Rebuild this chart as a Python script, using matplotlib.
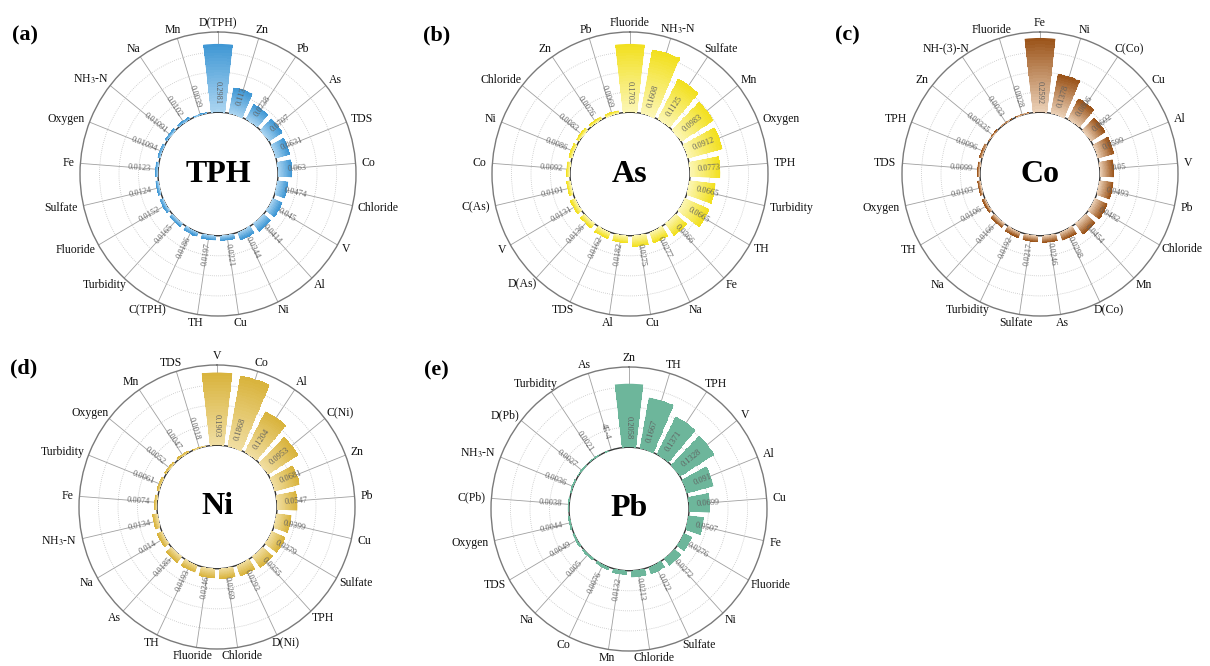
import numpy as np
import matplotlib.pyplot as plt
from matplotlib.colors import LinearSegmentedColormap

plt.rcParams['font.family'] = 'Liberation Serif'
plt.rcParams['mathtext.fontset'] = 'stix'

NH3 = r'NH$_3$-N'

# (a) TPH
tph_names = ['D(TPH)', 'Zn', 'Pb', 'As', 'TDS', 'Co', 'Chloride', 'V', 'Al', 'Ni', 'Cu',
             'TH', 'C(TPH)', 'Turbidity', 'Fluoride', 'Sulfate', 'Fe', 'Oxygen', NH3, 'Na', 'Mn']
tph_vals = [0.2981, 0.113, 0.0738, 0.0707, 0.0631, 0.063, 0.0474, 0.045, 0.0414, 0.0344, 0.0221,
            0.0197, 0.0186, 0.0165, 0.0152, 0.0124, 0.0123, 0.01094, 0.01091, 0.0102, 0.0039]

# (b) As
as_names = ['Fluoride', NH3, 'Sulfate', 'Mn', 'Oxygen', 'TPH', 'Turbidity', 'TH', 'Fe', 'Na', 'Cu',
            'Al', 'TDS', 'D(As)', 'V', 'C(As)', 'Co', 'Ni', 'Chloride', 'Zn', 'Pb']
as_vals = [0.1703, 0.1608, 0.1125, 0.0983, 0.0912, 0.0773, 0.0665, 0.0665, 0.0366, 0.0277, 0.0275,
           0.0182, 0.0162, 0.0136, 0.0131, 0.0101, 0.0092, 0.0086, 0.0083, 0.0076, 0.0069]

# (c) Co
co_names = ['Fe', 'Ni', 'C(Co)', 'Cu', 'Al', 'V', 'Pb', 'Chloride', 'Mn', 'D(Co)', 'As',
            'Sulfate', 'Turbidity', 'Na', 'TH', 'Oxygen', 'TDS', 'TPH', 'Zn', 'NH-(3)-N', 'Fluoride']
co_vals = [0.2592, 0.1378, 0.0806, 0.0602, 0.0599, 0.05, 0.0493, 0.0482, 0.0454, 0.0298, 0.0246,
           0.0217, 0.0192, 0.0166, 0.0106, 0.0103, 0.0099, 0.0096, 0.00335, 0.0033, 0.0028]

# (d) Ni
ni_names = ['V', 'Co', 'Al', 'C(Ni)', 'Zn', 'Pb', 'Cu', 'Sulfate', 'TPH', 'D(Ni)', 'Chloride',
            'Fluoride', 'TH', 'As', 'Na', NH3, 'Fe', 'Turbidity', 'Oxygen', 'Mn', 'TDS']
ni_vals = [0.1903, 0.1868, 0.1204, 0.0953, 0.0681, 0.0547, 0.0399, 0.0379, 0.0355, 0.0293, 0.0269,
           0.0246, 0.0193, 0.0185, 0.014, 0.0134, 0.0074, 0.0061, 0.0052, 0.0047, 0.0018]

# (e) Pb
pb_names = ['Zn', 'TH', 'TPH', 'V', 'Al', 'Cu', 'Fe', 'Fluoride', 'Ni', 'Sulfate', 'Chloride',
            'Mn', 'Co', 'Na', 'TDS', 'Oxygen', 'C(Pb)', NH3, 'D(Pb)', 'Turbidity', 'As']
pb_vals = [0.2058, 0.1667, 0.1371, 0.1328, 0.091, 0.0699, 0.0507, 0.0276, 0.0272, 0.022, 0.0213,
           0.0132, 0.0076, 0.005, 0.0049, 0.0044, 0.0038, 0.0036, 0.0027, 0.0021, 0.0004]

# panel: letter, centre title, names, values, centre (px), axis max, rings, base colour, top colour
panels = [
    ('(a)', 'TPH', tph_names, tph_vals, (218, 174), 0.35, 4, '#acd5f1', '#3f97d4'),
    ('(b)', 'As', as_names, as_vals, (630, 174), 0.20, 4, '#fcf6b6', '#f2e01e'),
    ('(c)', 'Co', co_names, co_vals, (1040, 174), 0.28, 4, '#ecd2b8', '#9a5218'),
    ('(d)', 'Ni', ni_names, ni_vals, (217, 507), 0.21, 4, '#f0dea2', '#d9b33c'),
    ('(e)', 'Pb', pb_names, pb_vals, (629, 509), 0.26, 4, '#6db69b', '#6db69b'),
]

W, H = 1210, 666
R_OUT_X, R_OUT_Y = 138, 142
HOLE = 60 / 138


def fmt(v):
    if v < 0.001:
        e = int(np.floor(np.log10(v)))
        return f'{v / 10 ** e:g}E{e}'
    return f'{v:g}'


fig = plt.figure(figsize=(W / 100, H / 100), dpi=100)
labels = []

for letter, title, names, vals, (cx, cy), vmax, nring, c0, c1 in panels:
    ax = fig.add_axes([(cx - R_OUT_X) / W, 1 - (cy + R_OUT_Y) / H,
                       2 * R_OUT_X / W, 2 * R_OUT_Y / H], projection='polar')
    ax.set_aspect('auto')
    ax.set_theta_zero_location('N')
    ax.set_theta_direction(-1)
    ax.set_ylim(0, vmax)
    ax.set_rorigin(-vmax * HOLE / (1 - HOLE))

    n = len(names)
    theta = np.arange(n) * 2 * np.pi / n
    width = 2 * np.pi / n * 0.78

    ax.set_xticks(theta)
    ax.set_xticklabels([])
    ax.set_yticks(np.linspace(0, vmax, nring + 1)[1:-1])
    ax.set_yticklabels([])
    ax.tick_params(length=0)
    ax.xaxis.grid(True, color='#a0a0a0', lw=0.6, ls='-')
    ax.yaxis.grid(True, color='#c4c4c4', lw=0.6, ls=(0, (1, 1.5)))
    ax.spines['polar'].set_color('#7a7a7a')
    ax.spines['polar'].set_linewidth(1.0)
    ax.spines['inner'].set_color('#333333')
    ax.spines['inner'].set_linewidth(1.0)

    cmap = LinearSegmentedColormap.from_list(title, [c0, c1])
    bars = ax.bar(theta, vals, width=width, bottom=0, color=c1, lw=0, zorder=3)
    for th, v, b in zip(theta, vals, bars):
        tt = np.linspace(th - width / 2, th + width / 2, 7)
        rr = np.linspace(0, v, 25)
        T, R = np.meshgrid(tt, rr)
        C = (R[:-1, :-1] + R[1:, :-1]) / 2 / v
        mesh = ax.pcolormesh(T, R, C, cmap=cmap, vmin=0, vmax=1, shading='flat', zorder=3.1)
        mesh.set_clip_path(b)

    # value labels, written along the radius
    r_txt = vmax * 0.247
    for th, v in zip(theta, vals):
        rot = 90 - np.degrees(th)
        while rot >= 90:
            rot -= 180
        while rot < -90:
            rot += 180
        ax.text(th, r_txt, fmt(v), rotation=rot, rotation_mode='anchor',
                ha='center', va='center', fontsize=6, color='#606060', zorder=4)

    # category names outside the ring
    for th, name in zip(theta, names):
        t = ax.annotate(name, xy=(th, vmax), xytext=(0, 0), textcoords='offset pixels',
                        ha='center', va='center', fontsize=8.5, color='#111111',
                        annotation_clip=False)
        labels.append((t, th))

    ax.text(0.5, 0.5, title, transform=ax.transAxes, ha='center', va='center',
            fontsize=23, fontweight='bold', color='black')
    fig.text((cx - 193) / W, 1 - (cy - 139) / H, letter, ha='center', va='center',
             fontsize=16, fontweight='bold')

# push each name outward by half its own size
fig.canvas.draw()
r = fig.canvas.get_renderer()
padx, pady = 6, 3
for t, th in labels:
    bb = t.get_window_extent(r)
    s, c = np.sin(th), np.cos(th)
    t.xyann = (s * (bb.width / 2 + padx), c * (bb.height / 2 + pady))

fig.savefig('out.png', dpi=100)
